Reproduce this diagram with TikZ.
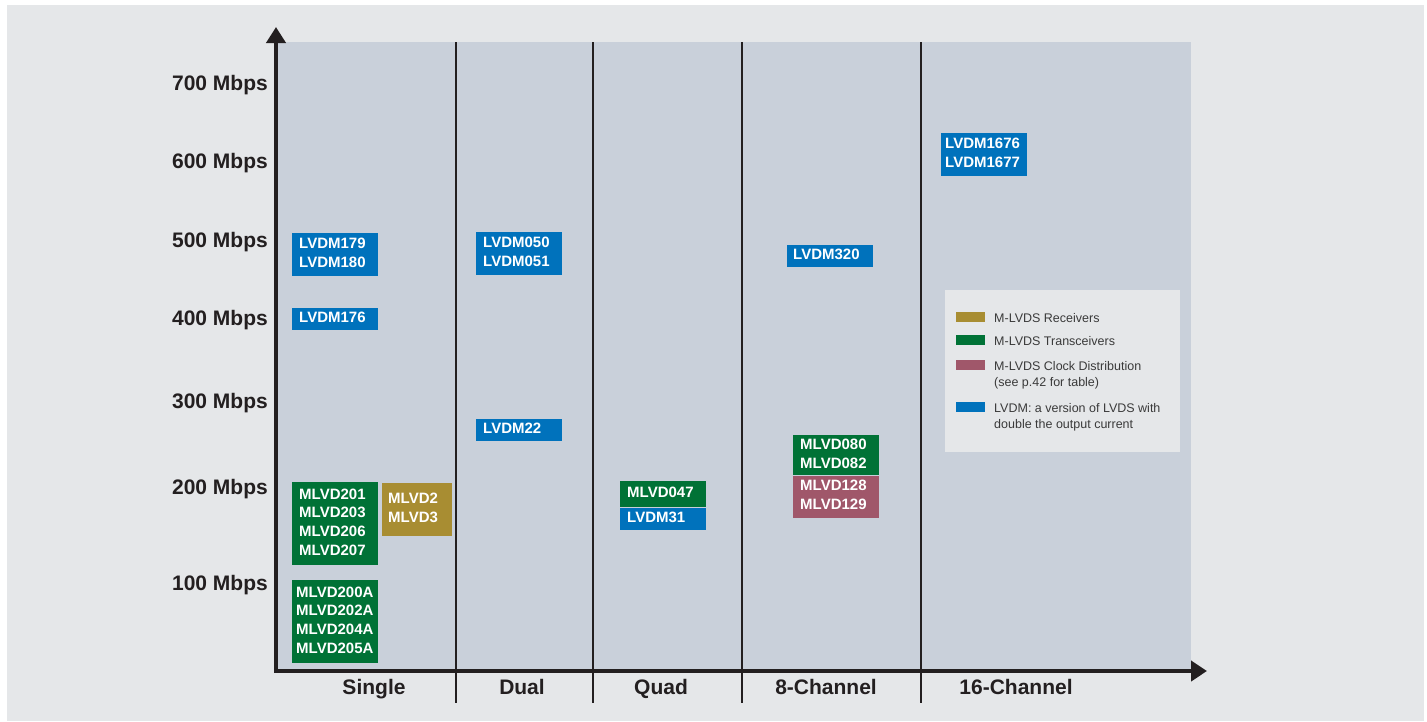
\documentclass[tikz,border=0pt]{standalone}
\usepackage{fontspec}
\setmainfont{Liberation Sans}
\usepackage{tikz}
\usetikzlibrary{arrows.meta,positioning}

\definecolor{pagegray}{RGB}{229,231,233}
\definecolor{plotgray}{RGB}{201,208,218}
\definecolor{lvdmblue}{RGB}{0,114,188}
\definecolor{mlvdgreen}{RGB}{0,114,54}
\definecolor{rcvolive}{RGB}{168,141,50}
\definecolor{clkmauve}{RGB}{160,87,106}
\definecolor{axisblack}{RGB}{35,31,32}
\definecolor{keygray}{RGB}{58,58,58}

\tikzset{
	chip/.style={anchor=north west, inner ysep=0pt, inner xsep=7pt, text width=72pt, align=left, text=white, font=\fontsize{15}{18.7}\selectfont\bfseries, execute at end node={\rule[-3.5pt]{0pt}{3.5pt}}},
	rate/.style={anchor=base east, inner sep=0pt, text=axisblack, font=\fontsize{21}{24}\selectfont\bfseries},
	chan/.style={anchor=base, inner sep=0pt, text=axisblack, font=\fontsize{21}{24}\selectfont\bfseries},
	swatch/.style={anchor=north west, inner sep=0pt, minimum width=29pt, minimum height=10pt},
	keytext/.style={anchor=north west, inner sep=0pt, align=left, text=keygray, font=\fontsize{12.5}{16.6}\selectfont},
	axis/.style={line width=4.5pt, draw=axisblack, line join=miter},
	divider/.style={line width=1.3pt, draw=axisblack}
}

\begin{document}
\begin{tikzpicture}[x=1pt,y=-1pt]
	%\draw[help lines] (0,0) grid[step=50] (1427,721);
	\useasboundingbox (0,0) rectangle (1427,721);
	\fill[white] (0,0) rectangle (1427,721);
	\fill[pagegray] (7,5) rectangle (1424,721);
	\fill[plotgray] (278,42) rectangle (1191,671);
	\foreach \x in {456,593,742,921}
		\draw[divider] (\x,42) -- (\x,703);
	\coordinate (ytop) at (276,27);
	\coordinate (origin) at (276,671);
	\coordinate (xend) at (1207,671);
	\draw[axis, {Triangle[width=19pt,length=16pt]}-{Triangle[width=20pt,length=16pt]}] (ytop) -- (origin) -- (xend);
	% rates
	\foreach \y/\r in {90/700,168/600,247/500,325/400,408/300,494/200,590/100}
		\node[rate] (r\r) at (268,\y) {\r\ Mbps};
	% channels
	\node[chan] (single) at (374,694) {Single};
	\node[chan] (dual) at (522,694) {Dual};
	\node[chan] (quad) at (661,694) {Quad};
	\node[chan] (oct) at (826,694) {8-Channel};
	\node[chan] (hex) at (1016,694) {16-Channel};
	% parts
	\node[chip, fill=lvdmblue, minimum height=42.5pt] (lvdm179) at (292,233) {LVDM179\\LVDM180};
	\node[chip, fill=lvdmblue, minimum height=21.5pt] (lvdm176) at (292,308) {LVDM176};
	\node[chip, fill=mlvdgreen, minimum height=83pt] (mlvd201) at (292,482) {MLVD201\\MLVD203\\MLVD206\\MLVD207};
	\node[chip, fill=rcvolive, minimum height=53pt, inner xsep=6pt, text width=58pt] (mlvd2) at (382,483) {MLVD2\\MLVD3};
	\node[chip, fill=mlvdgreen, minimum height=83pt, inner xsep=4pt, text width=78pt] (mlvd200a) at (292,580) {MLVD200A\\MLVD202A\\MLVD204A\\MLVD205A};
	\node[chip, fill=lvdmblue, minimum height=43pt] (lvdm050) at (476,232) {LVDM050\\LVDM051};
	\node[chip, fill=lvdmblue, minimum height=21.5pt] (lvdm22) at (476,419) {LVDM22};
	\node[chip, fill=mlvdgreen, minimum height=26pt] (mlvd047) at (620,481) {MLVD047};
	\node[chip, fill=lvdmblue, minimum height=22pt, below=0pt of mlvd047] (lvdm31) {LVDM31};
	\node[chip, fill=lvdmblue, minimum height=21.5pt, inner xsep=6pt, text width=74pt] (lvdm320) at (787,245) {LVDM320};
	\node[chip, fill=mlvdgreen, minimum height=40pt] (mlvd080) at (793,435) {MLVD080\\MLVD082};
	\node[chip, fill=clkmauve, minimum height=42pt, below=0pt of mlvd080] (mlvd128) {MLVD128\\MLVD129};
	\node[chip, fill=lvdmblue, minimum height=43pt, inner xsep=4pt, text width=78pt] (lvdm1676) at (941,133) {LVDM1676\\LVDM1677};
	% legend
	\node[anchor=north west, fill=pagegray, minimum width=235pt, minimum height=162pt, inner sep=0pt] (legend) at (945,290) {};
	\node[swatch, fill=rcvolive] (swrcv) at (956,312) {};
	\node[swatch, fill=mlvdgreen] (swxcv) at (956,335) {};
	\node[swatch, fill=clkmauve] (swclk) at (956,360) {};
	\node[swatch, fill=lvdmblue] (swlvdm) at (956,402) {};
	\node[keytext] (keyrcv) at (994,313) {M-LVDS Receivers};
	\node[keytext] (keyxcv) at (994,336.5) {M-LVDS Transceivers};
	\node[keytext] (keyclk) at (994,361) {M-LVDS Clock Distribution\\(see p.42 for table)};
	\node[keytext] (keylvdm) at (994,403) {LVDM: a version of LVDS with\\double the output current};
\end{tikzpicture}
\end{document}
